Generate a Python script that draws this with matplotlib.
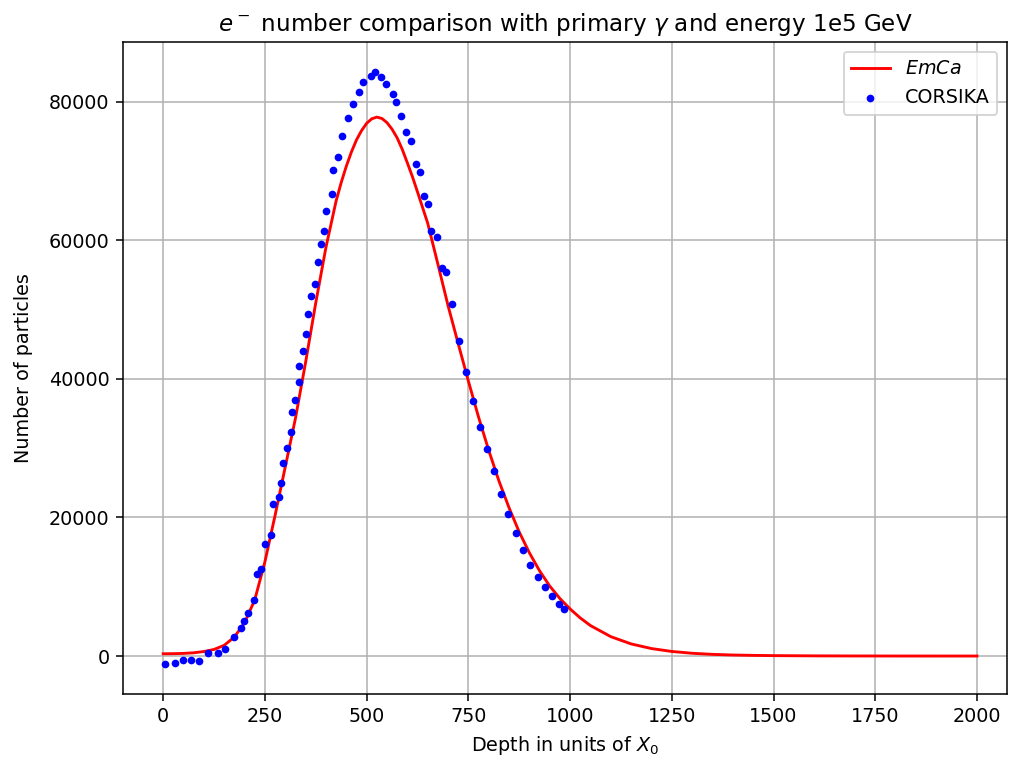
import matplotlib
matplotlib.use("Agg")
import matplotlib.pyplot as plt

DPI = 138

# EmCa curve (depth, number of particles)
emca_depth = [0, 25, 50, 75, 100, 125, 150, 175, 200, 225, 250, 275, 300, 325, 350,
              375, 400, 425, 437.5, 450, 462.5, 475, 487.5, 500, 512.5, 525, 537.5,
              550, 562.5, 575, 587.5, 600, 612.5, 625, 650, 675, 700,
              725, 750, 775, 800, 825, 850, 875, 900, 925, 950, 975, 1000, 1025,
              1050, 1100, 1150, 1200, 1250, 1300, 1350, 1400, 1450, 1500, 1600,
              1700, 1800, 1900, 2000]
emca_n = [330, 340, 380, 470, 650, 950, 1550, 2750, 4800, 8100, 13600, 20300, 27300,
          34300, 42400, 51000, 59000, 65700, 68350, 70700, 72750, 74500, 75850,
          76900, 77550, 77800, 77600, 77000, 76050, 74800, 73150, 71200, 69200,
          67000, 62500, 56600, 50600, 45100, 39700, 34500, 29700,
          25300, 21400, 17900, 14900, 12300, 10100, 8300, 6800, 5500, 4400, 2800,
          1750, 1080, 660, 400, 240, 150, 95, 60, 25, 10, 4, 2, 1]

# CORSIKA points
corsika_depth = [5, 29, 49, 69, 89, 110, 134, 152, 175, 191, 199, 209, 223, 230, 241,
                 251, 266, 271, 285, 289, 294, 304, 314, 316, 323, 333, 335, 343, 352,
                 355, 364, 374, 380, 388, 396, 401, 414, 418, 429, 439, 453, 467, 482,
                 490, 511, 521, 536, 547, 565, 571, 585, 597, 609, 622, 630, 640, 650,
                 659, 672, 686, 696, 710, 727, 745, 762, 778, 795, 812, 830, 848, 866,
                 884, 902, 920, 938, 955, 972, 986]
corsika_n = [-1200, -1050, -500, -500, -700, 450, 500, 1000, 2750, 4100, 5050, 6200,
             8100, 11800, 12600, 16200, 17500, 21900, 23000, 25000, 27900, 30000,
             32300, 35200, 36900, 39600, 41900, 44100, 46500, 49400, 52000, 53700,
             56900, 59500, 61300, 64300, 66700, 70200, 72000, 75000, 77600, 79700,
             81400, 82900, 83700, 84300, 83600, 82600, 81200, 80000, 78000, 75700,
             74300, 71000, 69900, 66400, 65300, 61300, 60500, 56000, 55400, 50800,
             45500, 41000, 36800, 33100, 29900, 26700, 23400, 20500, 17800, 15300,
             13200, 11400, 9900, 8600, 7500, 6800]

fig = plt.figure(figsize=(1010 / DPI, 762 / DPI), dpi=DPI)
ax = fig.add_axes([123/1010, 1 - 694/762, 884/1010, 652/762])

ax.plot(emca_depth, emca_n, color="red", label="$EmCa$", zorder=3)
ax.scatter(corsika_depth, corsika_n, color="blue", s=9, label="CORSIKA", zorder=4)

ax.set_xlim(-98.75, 2073.75)
ax.set_ylim(-5480, 88640)
ax.set_xticks([0, 250, 500, 750, 1000, 1250, 1500, 1750, 2000])
ax.set_yticks([0, 20000, 40000, 60000, 80000])
ax.grid(True)

ax.set_xlabel("Depth in units of $X_0$")
ax.set_ylabel("Number of particles", labelpad=8)
ax.set_title(r"$e^-$ number comparison with primary $\gamma$ and energy 1e5 GeV")
ax.legend(loc="upper right")

fig.savefig("out.png", dpi=DPI)
